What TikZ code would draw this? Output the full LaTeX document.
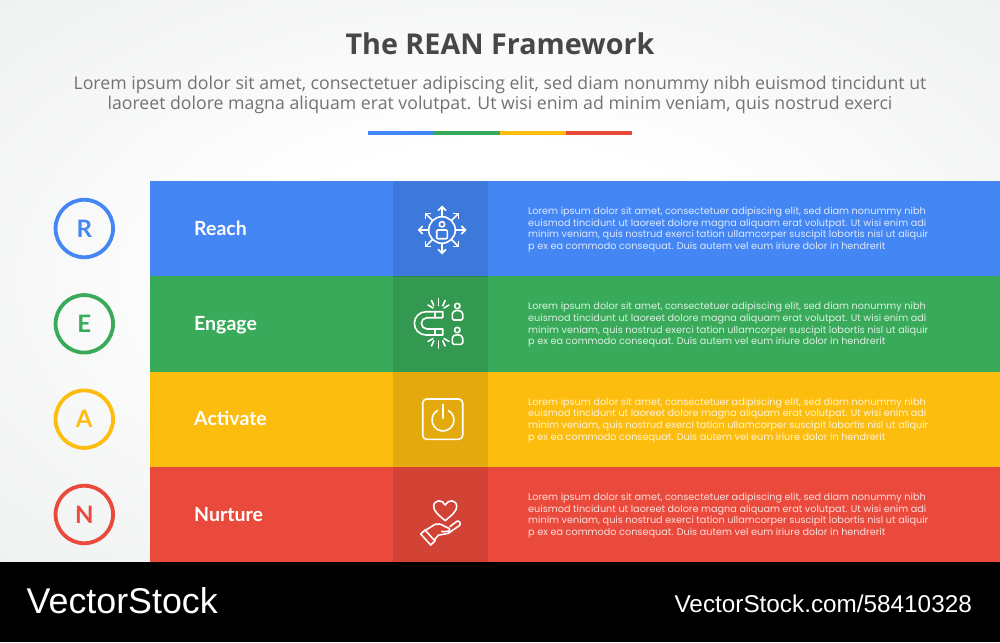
\documentclass[tikz,border=0pt]{standalone}
\usepackage{fontspec}
\usetikzlibrary{positioning,arrows.meta}
\setmainfont{Open Sans}
\newfontfamily\lorefont{Poppins}
\newfontfamily\rowfont{Lato}
\newfontfamily\markfont{Liberation Sans}
\definecolor{reachblue}{HTML}{4486F4}
\definecolor{engagegreen}{HTML}{39AA5A}
\definecolor{activateyellow}{HTML}{FDBD0F}
\definecolor{nurturered}{HTML}{EA4A3C}
\pgfdeclareradialshading{backglow}{\pgfpoint{0bp}{0bp}}{rgb(0bp)=(1,1,1); rgb(12bp)=(1,1,1); rgb(25bp)=(0.965,0.968,0.968); rgb(36bp)=(0.94,0.945,0.945); rgb(50bp)=(0.94,0.945,0.945)}
\newcommand{\rowtext}{Lorem ipsum dolor sit amet, consectetuer adipiscing elit, sed diam nonummy nibh\\
euismod tincidunt ut laoreet dolore magna aliquam erat volutpat. Ut wisi enim adi\\
minim veniam, quis nostrud exerci tation ullamcorper suscipit lobortis nisl ut aliquir\\
p ex ea commodo consequat. Duis autem vel eum iriure dolor in hendrerit}
\begin{document}
\begin{tikzpicture}[x=1pt, y=-1pt, node distance={95.33pt},
  bar/.style = {minimum width=850pt, minimum height=95.6pt, inner sep=0pt, outer sep=0pt},
  band/.style = {fill=black, fill opacity=0.1, minimum width=95pt, minimum height=95.6pt, inner sep=0pt, outer sep=0pt},
  badge/.style = {circle, line width=3.8pt, minimum size=57.5pt, inner sep=0pt, font=\rowfont\bfseries\fontsize{24}{24}\selectfont},
  rowname/.style = {anchor=base west, text=white, inner sep=0pt, font=\rowfont\bfseries\fontsize{19.5}{20}\selectfont},
  body/.style = {right=40pt of #1, yshift=-1pt, align=left, text=white, text opacity=0.82, inner sep=0pt, font=\lorefont\fontsize{9.68}{11.65}\selectfont},
  icon/.style = {draw=white, line width=1.6pt, line cap=round, line join=round},
  iconarrow/.style = {icon, -{Straight Barb[length=4pt,width=8pt]}}]
\useasboundingbox (0,0) rectangle (1000,642);
% background
\shade[shading=backglow] (0,0) rectangle (1000,562);
\node[fill=black, minimum width=1000pt, minimum height=80pt, inner sep=0pt, outer sep=0pt] (footer) at (500,602) {};
% heading
\node[text=black!72, inner sep=0pt, font=\bfseries\fontsize{28.7}{30}\selectfont] (title) at (500,44) {The REAN Framework};
\node[text=black!55, align=center, inner sep=0pt, font=\fontsize{17.7}{19.6}\selectfont] (subtitle) at (500,95) {Lorem ipsum dolor sit amet, consectetuer adipiscing elit, sed diam nonummy nibh euismod tincidunt ut\\laoreet dolore magna aliquam erat volutpat. Ut wisi enim ad minim veniam, quis nostrud exerci};
\fill[reachblue] (368,130.5) rectangle (434,134.5);
\fill[engagegreen] (434,130.5) rectangle (500,134.5);
\fill[activateyellow] (500,130.5) rectangle (566,134.5);
\fill[nurturered] (566,130.5) rectangle (632,134.5);
% rows
\node[bar, fill=reachblue] (reach) at (575,228.7) {};
\node[bar, fill=engagegreen] (engage) [below of=reach] {};
\node[bar, fill=activateyellow] (activate) [below of=engage] {};
\node[bar, fill=nurturered] (nurture) [below of=activate] {};
\node[band] (reachband) at (440.5,228.7) {};
\node[band] (engageband) [below of=reachband] {};
\node[band] (activateband) [below of=engageband] {};
\node[band] (nurtureband) [below of=activateband] {};
% letters
\node[badge, draw=reachblue, text=reachblue] (r) at (84.3,228.5) {R};
\node[badge, draw=engagegreen, text=engagegreen] (e) [below of=r] {E};
\node[badge, draw=activateyellow, text=activateyellow] (a) [below of=e] {A};
\node[badge, draw=nurturered, text=nurturered] (n) [below of=a] {N};
% row names
\node[rowname] (reachname) at (194,235) {Reach};
\node[rowname] (engagename) at (194,330.3) {Engage};
\node[rowname] (activatename) at (194,425.6) {Activate};
\node[rowname] (nurturename) at (194,521) {Nurture};
% row texts
\node[body=reachband] (reachtext) {\rowtext};
\node[body=engageband] (engagetext) {\rowtext};
\node[body=activateband] (activatetext) {\rowtext};
\node[body=nurtureband] (nurturetext) {\rowtext};
% reach icon
\draw[icon] (442,230) circle [radius=13.3];
\draw[icon] (442,224.3) circle [radius=2.7];
\draw[icon, rounded corners=1pt] (436.7,238.7) -- (436.7,230) -- (447.3,230) -- (447.3,238.7) -- cycle;
\draw[iconarrow] (442,216.7) -- (442,205.5);
\draw[iconarrow] (442,243.3) -- (442,254.5);
\draw[iconarrow] (428.7,230) -- (417.5,230);
\draw[iconarrow] (455.3,230) -- (466.5,230);
\draw[iconarrow] (432.6,220.6) -- (424.7,212.7);
\draw[iconarrow] (451.4,220.6) -- (459.3,212.7);
\draw[iconarrow] (432.6,239.4) -- (424.7,247.3);
\draw[iconarrow] (451.4,239.4) -- (459.3,247.3);
% engage icon
\draw[icon] (442.7,311.7) -- (426,311.7) arc [start angle=-90, end angle=-270, radius=11.65] -- (442.7,335) -- (442.7,329) -- (427,329) arc [start angle=90, end angle=270, radius=5.65] -- (442.7,317.7) -- cycle;
\draw[icon] (435,311.7) -- (435,317.7);
\draw[icon] (435,329) -- (435,335);
\draw[icon] (438.3,298.5) -- (438.3,305.5);
\draw[icon] (431.5,300.5) -- (433.8,305.7);
\draw[icon] (445.1,300.5) -- (442.8,305.7);
\draw[icon] (428,305) -- (433,308);
\draw[icon] (449,305) -- (444,308);
\draw[icon] (438.3,341) -- (438.3,348);
\draw[icon] (431.5,346) -- (433.8,340.8);
\draw[icon] (445.1,346) -- (442.8,340.8);
\draw[icon] (428,341.5) -- (433,338.5);
\draw[icon] (449,341.5) -- (444,338.5);
\draw[icon] (457.3,306) circle [radius=2.7];
\draw[icon, rounded corners=1.5pt] (452.3,320) -- (452.3,312.5) -- (455,310.5) -- (459.6,310.5) -- (462.7,312.5) -- (462.7,320) -- cycle;
\draw[icon] (457.3,330) circle [radius=2.7];
\draw[icon, rounded corners=1.5pt] (452.3,344.3) -- (452.3,336.8) -- (455,334.8) -- (459.6,334.8) -- (462.7,336.8) -- (462.7,344.3) -- cycle;
% activate icon
\draw[icon, rounded corners=4pt] (422.7,399) rectangle (462.7,439.3);
\draw[icon] (443,420) ++(-60:11) arc [start angle=-60, end angle=240, radius=11];
\draw[icon] (443,404.3) -- (443,418.3);
% nurture icon
\draw[icon] (445.2,520.7) .. controls (438,514.5) and (433.7,511) .. (433.7,506.5) .. controls (433.7,499.5) and (442.5,499) .. (445.2,505) .. controls (448,499) and (456.7,499.5) .. (456.7,506.5) .. controls (456.7,511) and (452.5,514.5) .. (445.2,520.7) -- cycle;
\draw[icon] (420.7,534) -- (425,530) -- (435,541) -- (430.7,545) -- cycle;
\draw[icon] (426,530) -- (435,524.3) .. controls (438,523.3) and (441,524) .. (444,526) -- (449.5,528.7) .. controls (451,531) and (447,532) .. (441.7,531.5);
\draw[icon] (434.3,540) -- (438.3,535.2) -- (448.3,533.3) -- (459.5,525.5) .. controls (461.5,523) and (459,520) .. (456.5,521.5) -- (450,526.5);
% footer marks
\node[anchor=base west, text=white, inner sep=0pt, font=\markfont\fontsize{35.8}{36}\selectfont] (markleft) at (26.5,613) {VectorStock};
\node[anchor=base east, text=white, inner sep=0pt, font=\markfont\fontsize{24.3}{25}\selectfont] (markright) at (972,612.3) {VectorStock.com/58410328};
\end{tikzpicture}
\end{document}
